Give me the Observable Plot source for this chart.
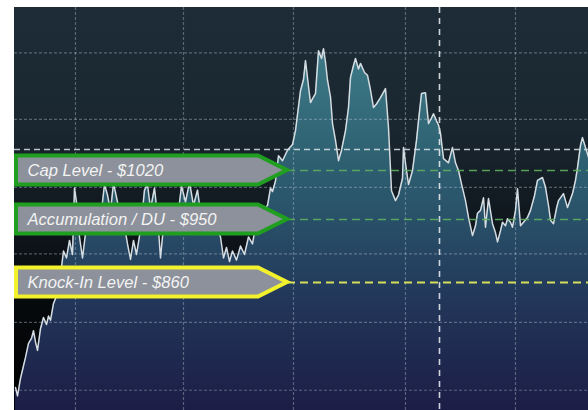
<!DOCTYPE html>
<html><head><meta charset="utf-8">
<script src="https://cdn.jsdelivr.net/npm/d3@7"></script>
<script src="https://cdn.jsdelivr.net/npm/@observablehq/plot@0.6"></script>
<style>
html,body{margin:0;padding:0;background:#fff;overflow:hidden;}
#chart{position:absolute;left:14px;top:7px;width:574px;height:403px;
background:linear-gradient(to bottom,#1d2c37 0%,#1a2730 30%,#111920 50%,#070a0d 72%,#000 100%);}
#chart svg{display:block;}
</style></head><body><div id="chart"></div>
<script>
// trading day index and price
const days = [1,3,6,8,11,14,17,19,21,23,26,29,32,34,36,39,43,46,49,52,55,58,60,62,65,68,71,74,78,82,86,90,93,96,99,103,106,110,113,116,119,122,126,130,133,136,140,143,146,149,153,158,163,167,171,175,179,183,187,192,197,202,206,209,212,215,218,222,226,230,234,238,241,245,249,253,256,258,261,264,268,273,278,281,286,289,291,294,296,299,301,304,307,309,311,313,316,318,321,324,327,331,334,336,339,341,344,346,350,353,356,359,362,366,371,374,377,381,384,388,389,391,394,398,402,404,407,411,414,417,419,422,424,426,429,434,438,441,444,447,451,454,458,461,463,466,469,471,474,478,481,483,486,488,491,493,496,498,501,503,506,509,513,516,520,523,528,531,534,536,539,542,544,549,553,558,561,563,566,568,571,574];
const prices = [710,698,723,735,753,773,780,791,775,763,794,810,800,812,806,830,844,870,905,895,920,900,995,975,925,895,930,948,945,940,950,1000,985,962,1002,975,950,940,915,893,920,900,935,992,1000,965,995,955,895,940,955,945,950,998,975,1003,970,992,950,945,955,940,925,895,910,890,905,892,912,900,925,915,940,955,965,970,995,990,1005,1041,1034,1049,1057,1077,1134,1150,1177,1140,1117,1125,1130,1191,1180,1194,1175,1149,1125,1087,1063,1034,1049,1077,1110,1153,1170,1180,1165,1173,1160,1156,1135,1110,1115,1124,1137,1081,991,977,985,1009,1053,1030,1000,1020,1063,1091,1130,1131,1087,1095,1101,1091,1085,1073,1037,1031,1053,1031,1020,1001,977,953,927,941,959,963,981,939,980,944,931,918,934,946,941,951,946,939,963,994,941,946,953,963,984,1006,1010,996,970,949,944,966,977,987,967,987,1006,1024,1056,1067,1053,1039];

const levelValues = [1020, 950, 860];
const levelLabels = ["Cap Level - $1020", "Accumulation / DU - $950", "Knock-In Level - $860"];
const levelColors = ["#1f9e1f", "#1f9e1f", "#f2f22c"];
const levelLineColors = ["#5fae5f", "#5fae5f", "#e9f25a"];
const initialLevel = 1050;
const gridDays = [61, 169, 279, 391, 501];
const gridPrices = [1188, 1093, 996, 901, 803, 706];
const markerDay = 425;
const xDomain = [0, 574];
const yDomain = [677.1, 1252.9];

const series = days.map((d, i) => ({day: d, price: prices[i]}));
const levels = levelValues.map((v, i) => ({value: v, label: levelLabels[i], color: levelColors[i], line: levelLineColors[i]}));

function gradientDefs() {
  const g = d3.create("svg:g");
  const lg = g.append("defs").append("linearGradient")
    .attr("id", "areaGrad").attr("gradientUnits", "userSpaceOnUse")
    .attr("x1", 0).attr("x2", 0).attr("y1", 0).attr("y2", 403);
  [[0, "#46858f"], [0.12, "#3d7987"], [0.35, "#2f6373"], [0.52, "#295169"], [0.72, "#22375a"], [1, "#1c1d46"]]
    .forEach(([o, c]) => lg.append("stop").attr("offset", o).attr("stop-color", c));
  return g.node();
}

function labelShapes(index, scales) {
  const g = d3.create("svg:g");
  levels.forEach(l => {
    const cy = scales.y(l.value);
    const x0 = 2, x1 = 244, x2 = 273, h = 14.5;
    g.append("path")
      .attr("d", `M${x0},${cy - h}L${x1},${cy - h}L${x2},${cy}L${x1},${cy + h}L${x0},${cy + h}Z`)
      .attr("fill", "#8c919b")
      .attr("stroke", l.color)
      .attr("stroke-width", 4)
      .attr("stroke-linejoin", "miter");
  });
  return g.node();
}

const chart = Plot.plot({
  width: 574,
  height: 403,
  margin: 0,
  x: {domain: xDomain, axis: null},
  y: {domain: yDomain, axis: null},
  style: {background: "transparent", fontFamily: "'Liberation Sans', Arial, sans-serif"},
  marks: [
    gradientDefs,
    Plot.areaY(series, {x: "day", y1: () => yDomain[0], y2: "price", fill: "url(#areaGrad)"}),
    Plot.ruleX(gridDays, {x: d => d, stroke: "#b4c2cf", strokeOpacity: 0.4, strokeDasharray: "3,2", strokeWidth: 1.2}),
    Plot.ruleY(gridPrices, {y: d => d, stroke: "#b4c2cf", strokeOpacity: 0.4, strokeDasharray: "3,2", strokeWidth: 1.2}),
    Plot.ruleY([initialLevel], {y: d => d, stroke: "#e4eaee", strokeOpacity: 0.8, strokeDasharray: "6,4", strokeWidth: 1.5}),
    Plot.ruleX([markerDay], {x: d => d, stroke: "#eef2f5", strokeOpacity: 0.85, strokeDasharray: "6,5", strokeWidth: 1.6}),
    Plot.line(series, {x: "day", y: "price", stroke: "#d6dde2", strokeWidth: 1.5}),
    Plot.ruleY(levels, {y: "value", stroke: "line", strokeDasharray: "8,5", strokeWidth: d => d.value === 860 ? 2 : 1.3, strokeOpacity: 0.9}),
    labelShapes,
    Plot.text(levels, {x: () => 0, y: "value", text: "label", dx: 13, textAnchor: "start", fill: "#f3f3f3", fontSize: 16.6, fontStyle: "italic"})
  ]
});
document.getElementById("chart").appendChild(chart);
</script>
</body></html>
